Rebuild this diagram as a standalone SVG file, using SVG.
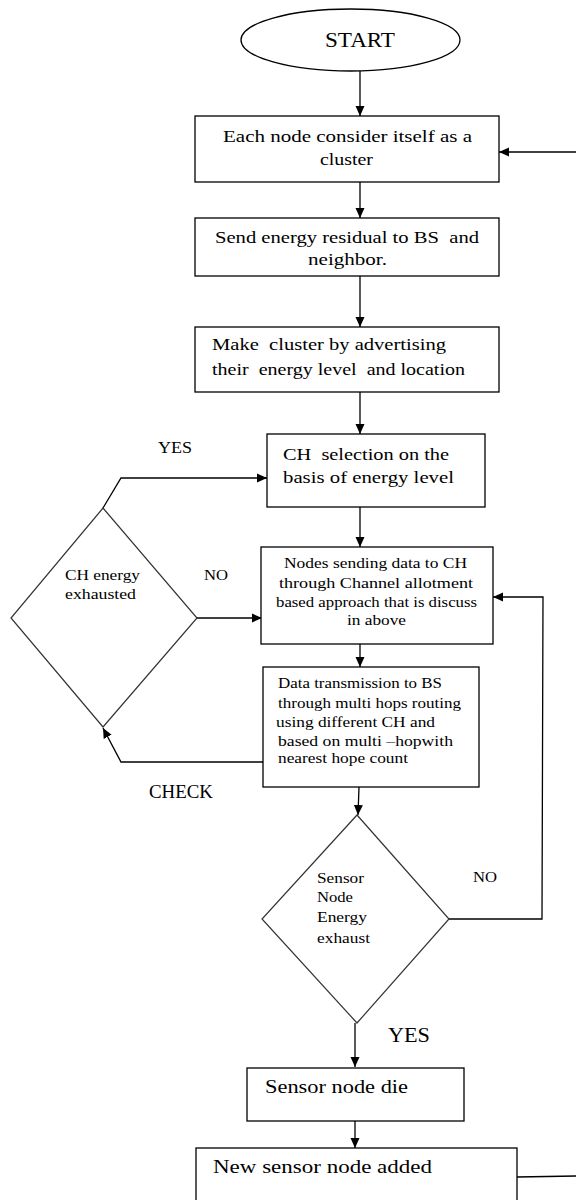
<svg xmlns="http://www.w3.org/2000/svg" width="576" height="1200" viewBox="0 0 576 1200">
<style>
.bg{fill:#fff}
.box{fill:#fff;stroke:#000;stroke-width:1.3}
.dia{fill:#fff;stroke:#333;stroke-width:1.2}
.ln{fill:none;stroke:#000;stroke-width:1.3}
text{font-family:"Liberation Serif","Times New Roman",serif;fill:#000}
.t15{font-size:15px}
.t16{font-size:16px}
.mid{text-anchor:middle}
</style>
<defs>
<marker id="ah" markerUnits="userSpaceOnUse" markerWidth="10" markerHeight="10" refX="10" refY="5" orient="auto">
<path d="M0,0.5 L10,5 L0,9.5 z" fill="#000"/>
</marker>
</defs>
<rect class="bg" x="0" y="0" width="576" height="1200"/>

<g id="connectors">
<line class="ln" x1="360" y1="71" x2="360" y2="116" marker-end="url(#ah)"/>
<line class="ln" x1="576" y1="152" x2="499" y2="152" marker-end="url(#ah)"/>
<line class="ln" x1="360" y1="182" x2="360" y2="218" marker-end="url(#ah)"/>
<line class="ln" x1="360" y1="276" x2="360" y2="327" marker-end="url(#ah)"/>
<line class="ln" x1="360" y1="392" x2="360" y2="434" marker-end="url(#ah)"/>
<line class="ln" x1="360" y1="507" x2="360" y2="547" marker-end="url(#ah)"/>
<polyline class="ln" points="103,508 121,478 267,478" marker-end="url(#ah)"/>
<line class="ln" x1="197" y1="618" x2="262" y2="618" marker-end="url(#ah)"/>
<line class="ln" x1="360" y1="644" x2="360" y2="667" marker-end="url(#ah)"/>
<polyline class="ln" points="263,762 121,762 103,728" marker-end="url(#ah)"/>
<line class="ln" x1="359" y1="787" x2="358" y2="815" marker-end="url(#ah)"/>
<polyline class="ln" points="449,919 542,919 543,597 493,597" marker-end="url(#ah)"/>
<line class="ln" x1="355" y1="1023" x2="355" y2="1067" marker-end="url(#ah)"/>
<line class="ln" x1="355" y1="1121" x2="355" y2="1148" marker-end="url(#ah)"/>
<line class="ln" x1="517" y1="1177" x2="576" y2="1176"/>
</g>

<g id="start">
<ellipse class="box" cx="350.5" cy="40" rx="109.5" ry="31"/>
<text x="360" y="47" class="mid" font-size="20" textLength="70" lengthAdjust="spacingAndGlyphs">START</text>
</g>

<g id="box1">
<rect class="box" x="195" y="116" width="304" height="66"/>
<text x="223" y="142" class="t16" textLength="249" lengthAdjust="spacingAndGlyphs">Each node consider itself as a</text>
<text x="320" y="165" class="t16" textLength="53" lengthAdjust="spacingAndGlyphs">cluster</text>
</g>

<g id="box2">
<rect class="box" x="195" y="218" width="304" height="58"/>
<text x="215" y="243" class="t16" textLength="264" lengthAdjust="spacingAndGlyphs" xml:space="preserve">Send energy residual to BS  and</text>
<text x="308" y="265" class="t16" textLength="79" lengthAdjust="spacingAndGlyphs">neighbor.</text>
</g>

<g id="box3">
<rect class="box" x="195" y="327" width="304" height="65"/>
<text x="212" y="350" class="t16" textLength="234" lengthAdjust="spacingAndGlyphs" xml:space="preserve">Make  cluster by advertising</text>
<text x="212" y="375" class="t16" textLength="253" lengthAdjust="spacingAndGlyphs" xml:space="preserve">their  energy level  and location</text>
</g>

<g id="box4">
<rect class="box" x="267" y="434" width="218" height="73"/>
<text x="283" y="460" class="t16" textLength="166" lengthAdjust="spacingAndGlyphs" xml:space="preserve">CH  selection on the</text>
<text x="283" y="483" class="t16" textLength="171" lengthAdjust="spacingAndGlyphs">basis of energy level</text>
</g>

<g id="diamond1">
<polygon class="dia" points="103,508 197,618 103,727 11,618"/>
<text x="65" y="580" class="t15" textLength="75" lengthAdjust="spacingAndGlyphs">CH energy</text>
<text x="65" y="599" class="t15" textLength="71" lengthAdjust="spacingAndGlyphs">exhausted</text>
</g>

<g id="box5">
<rect class="box" x="261" y="547" width="232" height="97"/>
<text x="284" y="568" class="t15" textLength="183" lengthAdjust="spacingAndGlyphs">Nodes sending data to CH</text>
<text x="279" y="588" class="t15" textLength="194" lengthAdjust="spacingAndGlyphs">through Channel allotment</text>
<text x="276" y="607" class="t15" textLength="201" lengthAdjust="spacingAndGlyphs">based approach that is discuss</text>
<text x="347" y="625" class="t15" textLength="59" lengthAdjust="spacingAndGlyphs">in above</text>
</g>

<g id="box6">
<rect class="box" x="263" y="667" width="216" height="120"/>
<text x="278" y="688" class="t15" textLength="164" lengthAdjust="spacingAndGlyphs">Data transmission to BS</text>
<text x="278" y="708" class="t15" textLength="183" lengthAdjust="spacingAndGlyphs">through multi hops routing</text>
<text x="276" y="727" class="t15" textLength="159" lengthAdjust="spacingAndGlyphs">using different CH and</text>
<text x="278" y="746" class="t15" textLength="175" lengthAdjust="spacingAndGlyphs">based on multi –hopwith</text>
<text x="278" y="763" class="t15" textLength="130" lengthAdjust="spacingAndGlyphs">nearest hope count</text>
</g>

<g id="diamond2">
<polygon class="dia" points="357,815 449,919 357,1023 262,919"/>
<text x="317" y="883" font-size="14" textLength="47" lengthAdjust="spacingAndGlyphs">Sensor</text>
<text x="317" y="902" font-size="14" textLength="36" lengthAdjust="spacingAndGlyphs">Node</text>
<text x="317" y="922" font-size="14" textLength="50" lengthAdjust="spacingAndGlyphs">Energy</text>
<text x="317" y="943" font-size="14" textLength="53" lengthAdjust="spacingAndGlyphs">exhaust</text>
</g>

<g id="box7">
<rect class="box" x="247" y="1068" width="217" height="53"/>
<text x="265" y="1093" font-size="19" textLength="143" lengthAdjust="spacingAndGlyphs">Sensor node die</text>
</g>

<g id="box8">
<rect class="box" x="196" y="1148" width="321" height="70"/>
<text x="213" y="1173" font-size="19" textLength="219" lengthAdjust="spacingAndGlyphs">New sensor node added</text>
</g>

<g id="labels">
<text x="158" y="453" font-size="16" textLength="34" lengthAdjust="spacingAndGlyphs">YES</text>
<text x="204" y="580" font-size="15" textLength="24" lengthAdjust="spacingAndGlyphs">NO</text>
<text x="149" y="798" font-size="18" textLength="64" lengthAdjust="spacingAndGlyphs">CHECK</text>
<text x="473" y="882" font-size="15" textLength="24" lengthAdjust="spacingAndGlyphs">NO</text>
<text x="388" y="1042" font-size="20" textLength="42" lengthAdjust="spacingAndGlyphs">YES</text>
</g>
</svg>
